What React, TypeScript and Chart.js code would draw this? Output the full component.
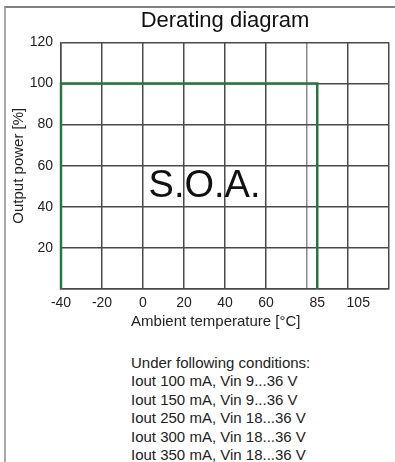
import React, { useEffect, useRef } from "react";
import { Chart, registerables } from "chart.js";

Chart.register(...registerables);

// ---- data ----
const chartTitle = "Derating diagram";
const xAxisTitle = "Ambient temperature [°C]";
const yAxisTitle = "Output power [%]";
const derateTemps = [-40, -40, 85, 85];
const derateOutput = [0, 100, 100, 0];
const xGridValues = [-40, -20, 0, 20, 40, 60, 80, 100, 120];
const xTickLabels = [-40, -20, 0, 20, 40, 60, 85, 105];
const yTickValues = [20, 40, 60, 80, 100, 120];
const soaText = "S.O.A.";
const soaAt = { x: 30, y: 50 };
const conditionLines = [
  "Under following conditions:",
  "Iout 100 mA, Vin 9...36 V",
  "Iout 150 mA, Vin 9...36 V",
  "Iout 250 mA, Vin 18...36 V",
  "Iout 300 mA, Vin 18...36 V",
  "Iout 350 mA, Vin 18...36 V",
];

const FONT = "'Liberation Sans', Arial, sans-serif";
const GRID = "#4a4a4a";
const GREEN = "#237a3c";

const textPlugin = {
  id: "extraText",
  afterDatasetsDraw(chart: any) {
    const { ctx, scales, chartArea } = chart;
    const px = scales.x.getPixelForValue(soaAt.x);
    const py = scales.y.getPixelForValue(soaAt.y);
    ctx.save();
    ctx.font = `38px ${FONT}`;
    ctx.fillStyle = "#111";
    ctx.textAlign = "center";
    ctx.textBaseline = "middle";
    ctx.fillText(soaText, px, py);
    // x-axis title, slightly left of centre as in the reference
    ctx.font = `15px ${FONT}`;
    ctx.fillStyle = "#222";
    ctx.fillText(xAxisTitle, chartArea.left + chartArea.width * 0.472, chartArea.bottom + 33);
    ctx.restore();
  },
};

export default function App() {
  const ref = useRef<HTMLCanvasElement>(null);

  useEffect(() => {
    if (!ref.current) return;
    const allXTicks = Array.from(new Set([...xGridValues, ...xTickLabels])).sort((a, b) => a - b);
    const chart = new Chart(ref.current, {
      type: "scatter",
      data: {
        datasets: [
          {
            data: derateTemps.map((t, i) => ({ x: t, y: derateOutput[i] })),
            showLine: true,
            borderColor: GREEN,
            borderWidth: 2.5,
            pointRadius: 0,
            fill: false,
            clip: 4,
          } as any,
        ],
      },
      options: {
        animation: false,
        responsive: false,
        devicePixelRatio: 1,
        layout: { padding: { left: 0, right: 5, top: 0, bottom: 0 } },
        plugins: {
          legend: { display: false },
          tooltip: { enabled: false },
          title: {
            display: true,
            text: chartTitle,
            fullSize: false,
            color: "#111",
            font: { family: FONT, size: 22, weight: "normal" as any, lineHeight: 1.2 },
            padding: { top: 8, bottom: 8 },
          },
        },
        scales: {
          x: {
            type: "linear",
            min: -40,
            max: 120,
            afterBuildTicks: (scale: any) => {
              scale.ticks = allXTicks.map((v) => ({ value: v }));
            },
            afterFit: (scale: any) => {
              scale.height = 51;
            },
            grid: {
              color: (c: any) => {
                const v = c.tick?.value;
                if (!xGridValues.includes(v)) return "rgba(0,0,0,0)";
                if (v === 80) return "#8a8a8a";
                return GRID;
              },
              lineWidth: 1.5,
              drawTicks: false,
            },
            border: { display: true, color: GRID, width: 1.5 },
            ticks: {
              autoSkip: false,
              maxRotation: 0,
              padding: 6,
              color: "#222",
              font: { family: FONT, size: 14 },
              callback: (v: any) => (xTickLabels.includes(Number(v)) ? String(v) : ""),
            },
            title: { display: false },
          },
          y: {
            type: "linear",
            min: 0,
            max: 120,
            afterBuildTicks: (scale: any) => {
              scale.ticks = [0, ...yTickValues].map((v) => ({ value: v }));
            },
            afterFit: (scale: any) => {
              scale.width = 61;
            },
            grid: { color: GRID, lineWidth: 1.5, drawTicks: false },
            border: { display: true, color: GRID, width: 1.5 },
            ticks: {
              padding: 8,
              color: "#222",
              font: { family: FONT, size: 14 },
              callback: (v: any) => (yTickValues.includes(Number(v)) ? String(v) : ""),
            },
            title: {
              display: true,
              text: yAxisTitle,
              color: "#222",
              font: { family: FONT, size: 15 },
              padding: { top: 10, bottom: 0 },
            },
          },
        },
      },
      plugins: [textPlugin],
    });
    return () => chart.destroy();
  }, []);

  return (
    <div style={{ position: "absolute", left: 0, top: 0, width: 395, height: 462, background: "#fff", overflow: "hidden" }}>
      <div
        style={{
          position: "absolute",
          left: 4,
          top: 6,
          width: 395,
          height: 462,
          borderTop: "2px solid #808080",
          borderLeft: "2px solid #a8a8a8",
        }}
      />
      <canvas ref={ref} width={395} height={340} style={{ position: "absolute", left: 0, top: 0, width: 395, height: 340 }} />
      <div
        style={{
          position: "absolute",
          left: 131,
          top: 353.5,
          fontFamily: FONT,
          fontSize: 15,
          lineHeight: "18.6px",
          color: "#222",
          whiteSpace: "nowrap",
        }}
      >
        {conditionLines.map((l, i) => (
          <div key={i}>{l}</div>
        ))}
      </div>
    </div>
  );
}
